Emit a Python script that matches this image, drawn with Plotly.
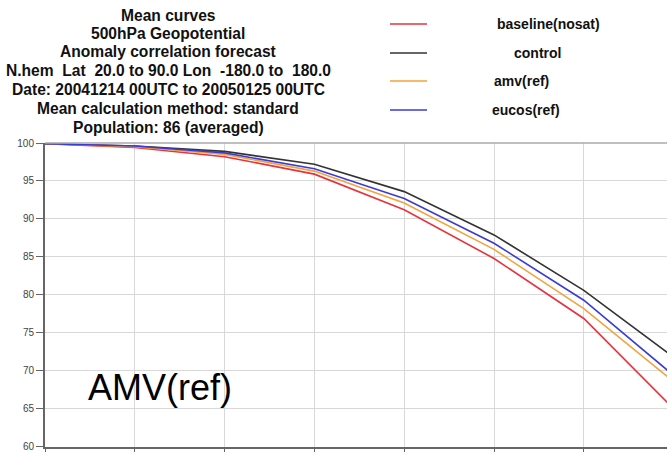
import plotly.graph_objects as go

# ---- data ----
forecast_day = [0, 1, 2, 3, 4, 5, 6, 7]
baseline_nosat = [99.9, 99.4, 98.2, 95.9, 91.2, 84.8, 76.9, 65.0]
control = [99.9, 99.6, 98.9, 97.2, 93.6, 87.9, 80.6, 71.8]
amv_ref = [99.9, 99.5, 98.5, 96.3, 92.1, 86.0, 78.2, 68.6]
eucos_ref = [99.9, 99.6, 98.7, 96.6, 92.7, 86.8, 79.3, 69.4]

series_names = ["baseline(nosat)", "control", "amv(ref)", "eucos(ref)"]
series_values = [baseline_nosat, control, amv_ref, eucos_ref]
series_colors = ["#e8323c", "#333333", "#f2a33a", "#3b3bd6"]

y_ticks = [60, 65, 70, 75, 80, 85, 90, 95, 100]

title_lines = [
    "Mean curves",
    "500hPa Geopotential",
    "Anomaly correlation forecast",
    "N.hem  Lat  20.0 to 90.0 Lon  -180.0 to  180.0",
    "Date: 20041214 00UTC to 20050125 00UTC",
    "Mean calculation method: standard",
    "Population: 86 (averaged)",
]

W, H = 667, 452
PLOT_L, PLOT_T, PLOT_B = 45, 143, 447          # pixels
ML, MR, MT = PLOT_L, 0, PLOT_T
MB = H - PLOT_B
PW, PH = W - ML - MR, PLOT_B - PLOT_T

def px_x(p):
    return (p - PLOT_L) / PW

def px_y(p):
    return (PLOT_B - p) / PH

FONT = "Liberation Sans, Arial, Helvetica, sans-serif"

fig = go.Figure()
for name, vals, col in zip(series_names, series_values, series_colors):
    fig.add_trace(go.Scatter(x=forecast_day, y=vals, mode="lines", name=name,
                             line=dict(color=col, width=1.6), showlegend=False))

annotations = []
title_y = [15, 33.5, 52, 71, 90, 108.5, 127]
for txt, yy in zip(title_lines, title_y):
    annotations.append(dict(text="<b>" + txt + "</b>", x=px_x(168), y=px_y(yy),
                            xref="paper", yref="paper", showarrow=False,
                            xanchor="center", yanchor="middle",
                            font=dict(family=FONT, size=15.6, color="#111111")))

legend_y = [24, 53, 81, 110]
legend_text_x = [495, 512, 492, 490]
shapes = []
for name, col, yy, tx in zip(series_names, series_colors, legend_y, legend_text_x):
    shapes.append(dict(type="line", xref="paper", yref="paper",
                       x0=px_x(390), x1=px_x(427), y0=px_y(yy), y1=px_y(yy),
                       line=dict(color=col, width=1.6)))
    annotations.append(dict(text="<b>" + name + "</b>", x=px_x(tx), y=px_y(yy),
                            xref="paper", yref="paper", showarrow=False,
                            xanchor="left", yanchor="middle",
                            font=dict(family=FONT, size=14, color="#111111")))

annotations.append(dict(text="AMV(ref)", x=px_x(160), y=px_y(387),
                        xref="paper", yref="paper", showarrow=False,
                        xanchor="center", yanchor="middle",
                        font=dict(family=FONT, size=36, color="#000000")))

fig.update_layout(
    width=W, height=H,
    margin=dict(l=ML, r=MR, t=MT, b=MB, pad=0),
    paper_bgcolor="white", plot_bgcolor="white",
    annotations=annotations, shapes=shapes,
    xaxis=dict(range=[0, PW / 89.8], tickvals=forecast_day, showticklabels=False,
               ticks="outside", ticklen=5, tickcolor="#666666",
               showgrid=True, gridcolor="#d8d8d8", gridwidth=1,
               showline=True, linecolor="#666666", linewidth=2, mirror=False,
               zeroline=False, fixedrange=True),
    yaxis=dict(range=[59.98, 100], tickvals=y_ticks, ticktext=[str(v) for v in y_ticks],
               ticks="outside", ticklen=7, tickcolor="#666666",
               tickfont=dict(family=FONT, size=10, color="#444444"),
               ticklabeloverflow="allow",
               showgrid=True, gridcolor="#d8d8d8", gridwidth=1,
               showline=True, linecolor="#666666", linewidth=2,
               zeroline=False, fixedrange=True),
)
# top frame line
fig.add_shape(type="line", xref="paper", yref="paper", x0=0, x1=1, y0=1, y1=1,
              line=dict(color="#aaaaaa", width=1.5))

fig.write_html(
    "out.html",
    config={"displayModeBar": False},
    post_script=("document.body.style.margin='0';"
                 "document.body.style.overflow='hidden';"
                 "document.documentElement.style.overflow='hidden';"),
)
